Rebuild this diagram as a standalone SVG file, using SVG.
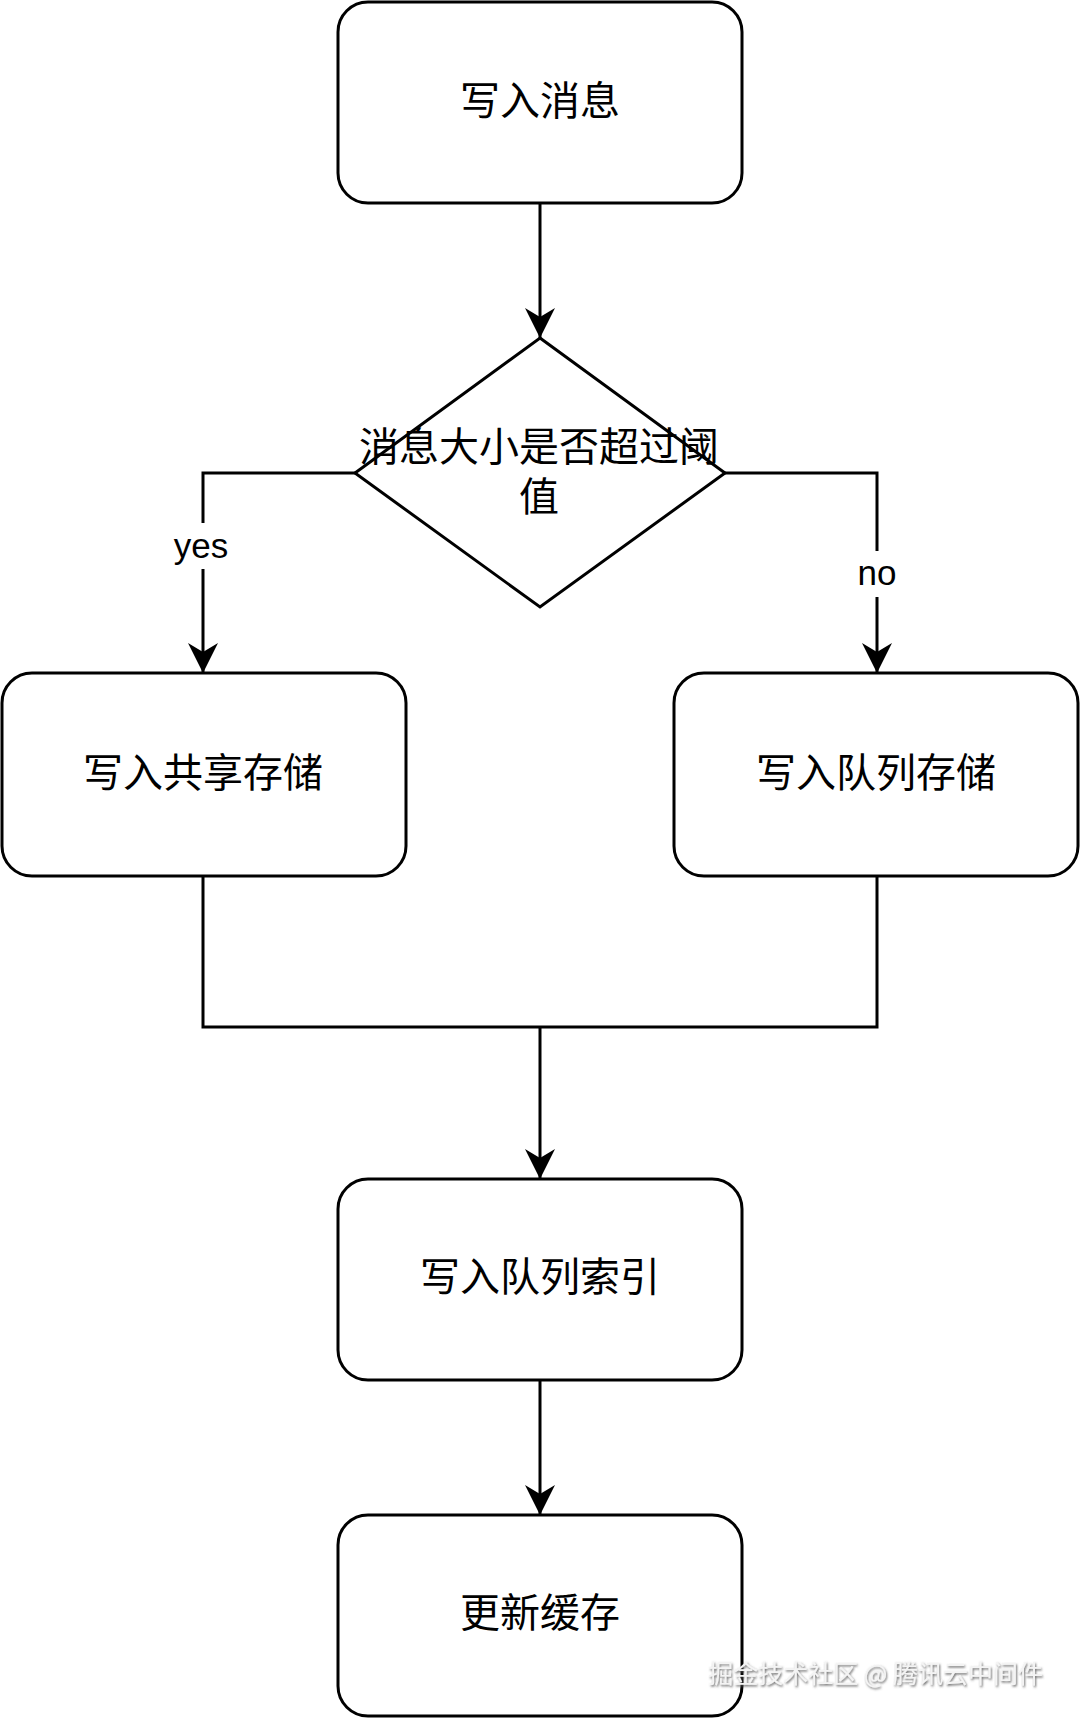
<svg xmlns="http://www.w3.org/2000/svg" width="1080" height="1719" viewBox="0 0 1080 1719">
  <style>
    .node { fill: #ffffff; stroke: #000000; stroke-width: 3; }
    .edge { fill: none; stroke: #000000; stroke-width: 3; }
    .lbl { font-family: "Noto Sans CJK SC", "Liberation Sans", sans-serif; font-size: 40px; fill: #000000; text-anchor: middle; dominant-baseline: central; }
    .elbl { font-family: "Liberation Sans", Arial, sans-serif; font-size: 35px; fill: #000000; text-anchor: middle; }
    .wm { font-family: "Noto Sans CJK SC", "Liberation Sans", sans-serif; font-size: 25px; fill: #f4f4f4; text-anchor: end; dominant-baseline: central; }
  </style>
  <defs>
    <marker id="arrow" markerUnits="userSpaceOnUse" viewBox="0 -16 31 32" refX="30" refY="0" markerWidth="31" markerHeight="32" orient="auto">
      <path d="M0,-15 L30,0 L0,15 L9,0 Z" fill="#000000"/>
    </marker>
    <filter id="shadow" x="-10%" y="-50%" width="120%" height="200%">
      <feDropShadow dx="1" dy="1.5" stdDeviation="0.8" flood-color="#555555" flood-opacity="0.9"/>
    </filter>
  </defs>
  <rect width="1080" height="1719" fill="#ffffff"/>

  <g id="connectors">
    <path class="edge" d="M540,203 L540,338" marker-end="url(#arrow)"/>
    <path class="edge" d="M355,473 L203,473 L203,673" marker-end="url(#arrow)"/>
    <path class="edge" d="M725,473 L877,473 L877,673" marker-end="url(#arrow)"/>
    <path class="edge" d="M203,876 L203,1027 L877,1027 L877,876"/>
    <path class="edge" d="M540,1027 L540,1179" marker-end="url(#arrow)"/>
    <path class="edge" d="M540,1380 L540,1515" marker-end="url(#arrow)"/>
    <g id="label-yes">
      <rect x="172" y="523" width="58" height="46" fill="#ffffff"/>
      <text class="elbl" x="201" y="558">yes</text>
    </g>
    <g id="label-no">
      <rect x="852" y="551" width="50" height="46" fill="#ffffff"/>
      <text class="elbl" x="877" y="585">no</text>
    </g>
  </g>

  <g id="node-write-msg">
    <rect class="node" x="338" y="2" width="404" height="201" rx="30" ry="30"/>
    <text class="lbl" x="540" y="98">写入消息</text>
  </g>

  <g id="node-decision">
    <polygon class="node" points="540,338 725,473 540,607 355,473"/>
    <text class="lbl"><tspan x="539" y="444">消息大小是否超过阈</tspan><tspan x="539" y="494">值</tspan></text>
  </g>

  <g id="node-shared">
    <rect class="node" x="2" y="673" width="404" height="203" rx="30" ry="30"/>
    <text class="lbl" x="203" y="770">写入共享存储</text>
  </g>

  <g id="node-queue">
    <rect class="node" x="674" y="673" width="404" height="203" rx="30" ry="30"/>
    <text class="lbl" x="876" y="770">写入队列存储</text>
  </g>

  <g id="node-index">
    <rect class="node" x="338" y="1179" width="404" height="201" rx="30" ry="30"/>
    <text class="lbl" x="540" y="1274">写入队列索引</text>
  </g>

  <g id="node-cache">
    <rect class="node" x="338" y="1515" width="404" height="201" rx="30" ry="30"/>
    <text class="lbl" x="540" y="1610">更新缓存</text>
  </g>

  <text class="wm" x="1043" y="1672" filter="url(#shadow)">掘金技术社区 @ 腾讯云中间件</text>
</svg>
